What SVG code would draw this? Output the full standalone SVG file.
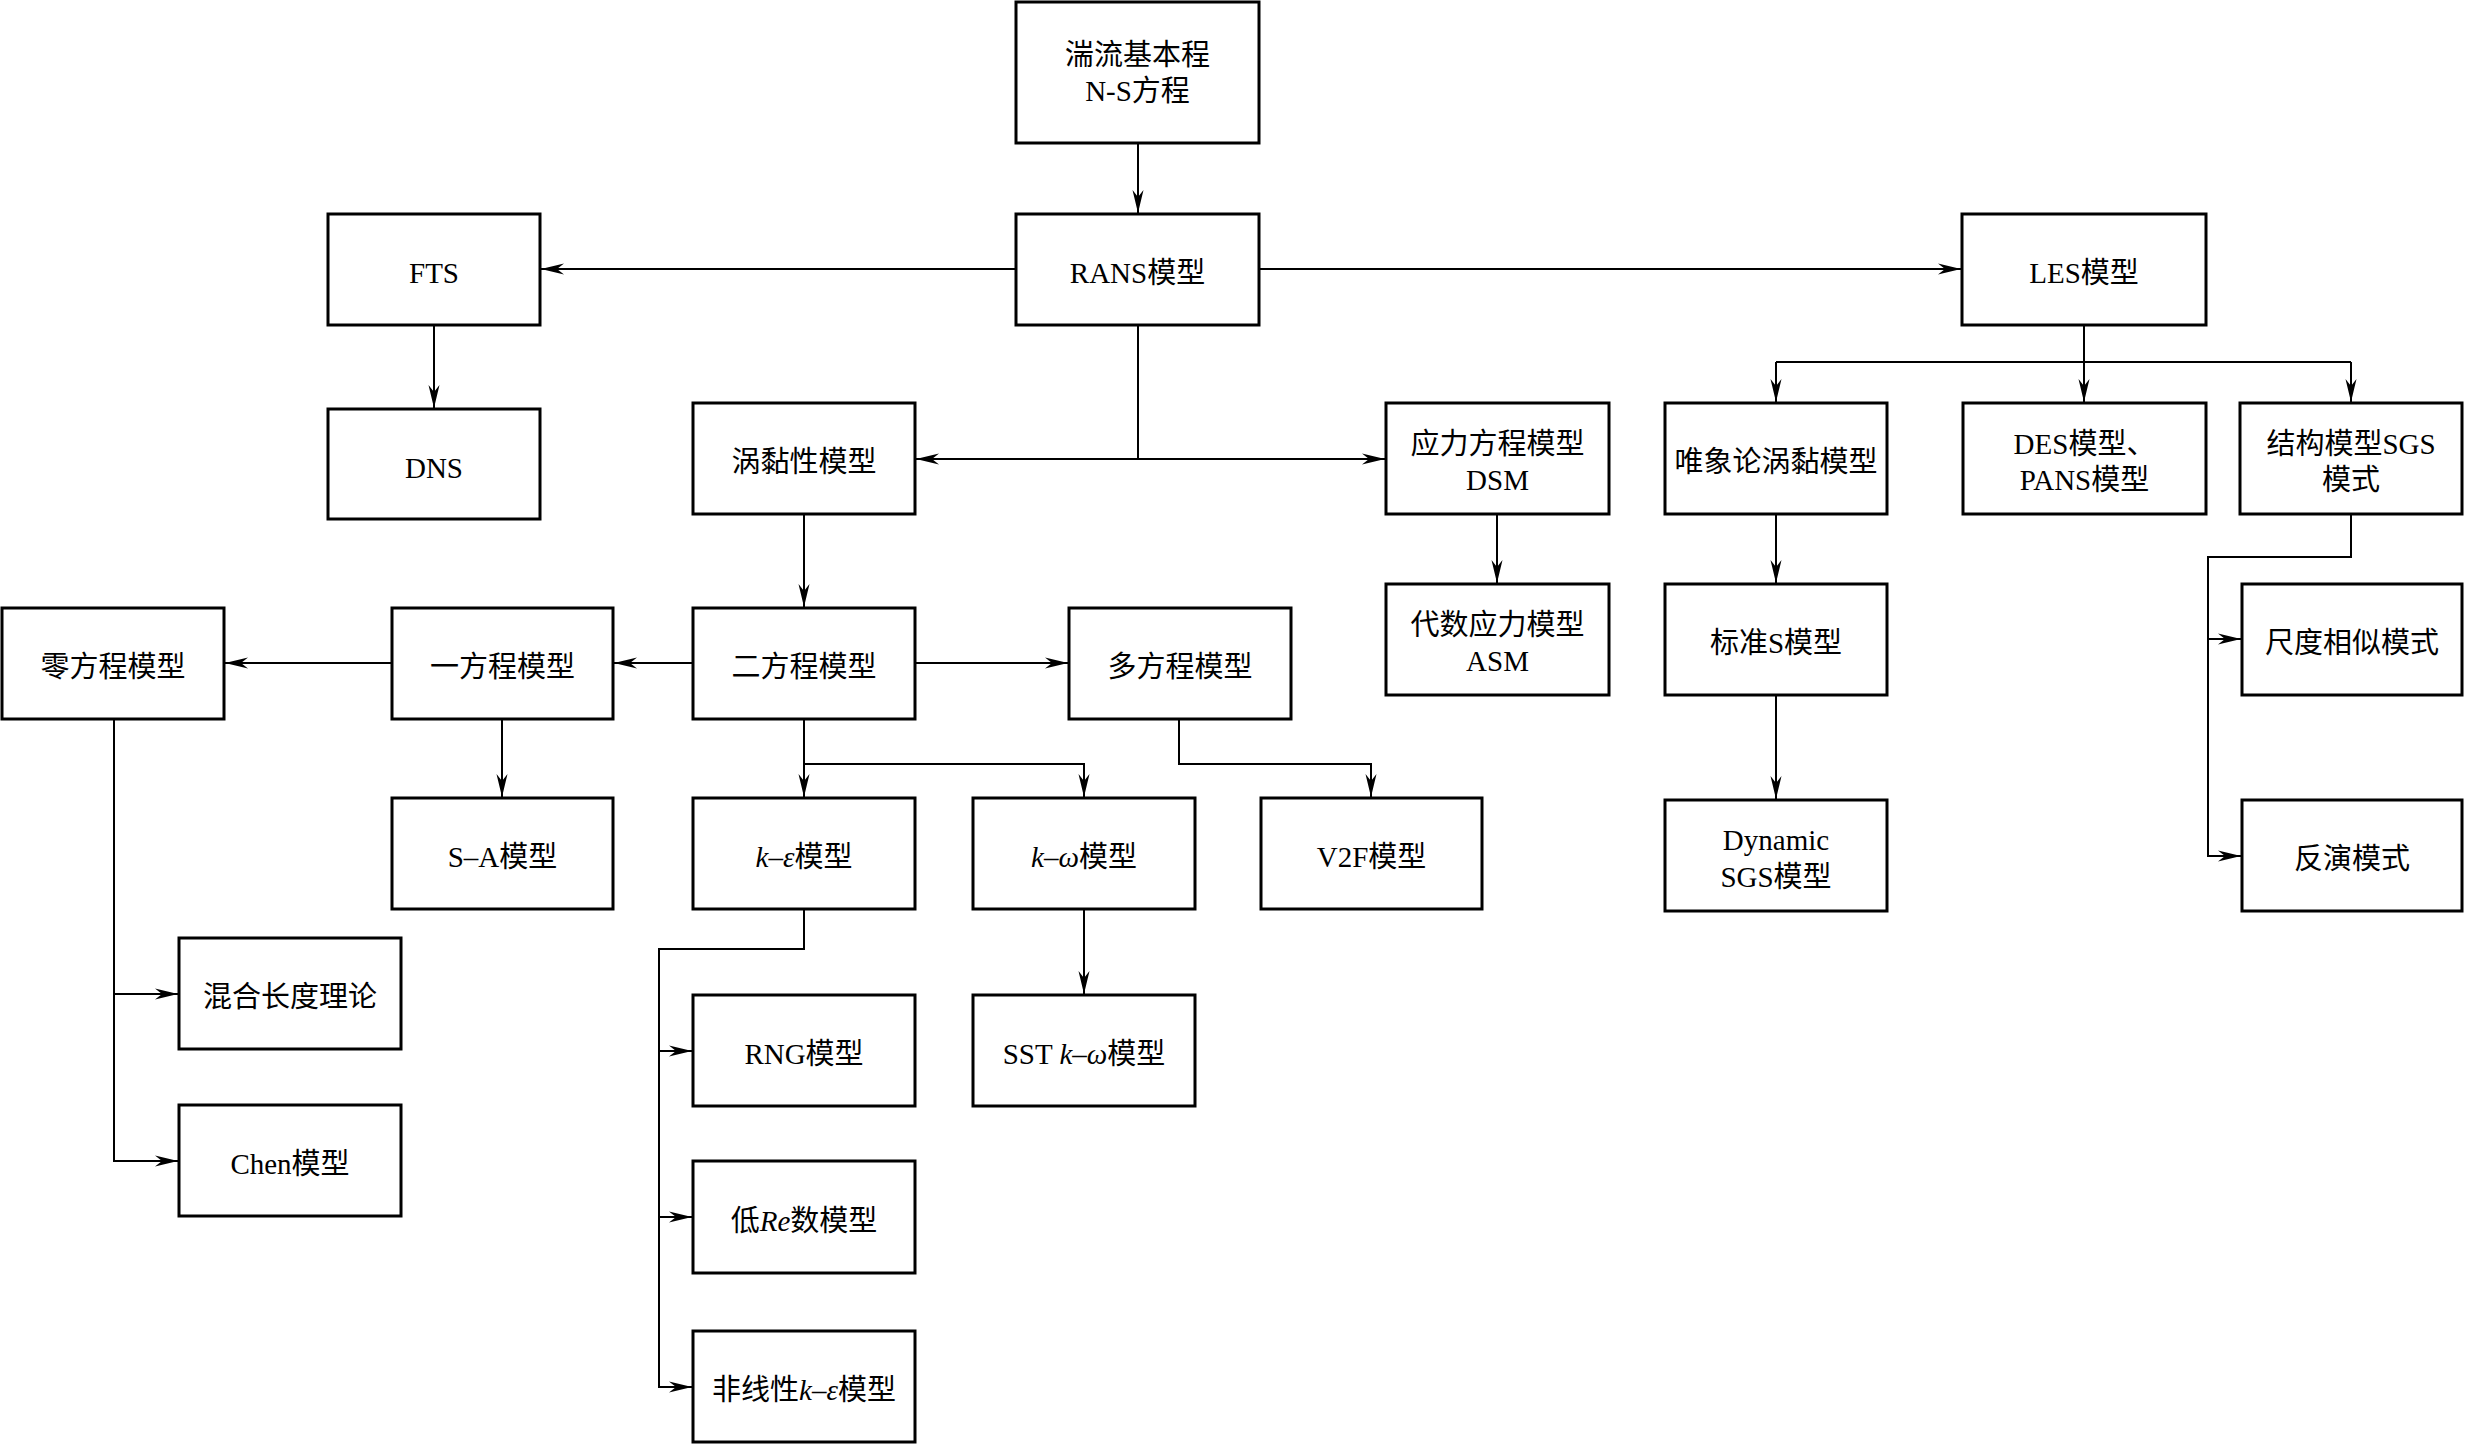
<svg xmlns="http://www.w3.org/2000/svg" width="2465" height="1444" viewBox="0 0 2465 1444">
<style>
.box rect{fill:#fff;stroke:#000;stroke-width:3}
.box text{font-family:"Liberation Serif","Noto Sans CJK SC",serif;font-size:29px;text-anchor:middle;fill:#000}
.it{font-style:italic}
.conn path{fill:none;stroke:#000;stroke-width:2}
.conn path.a{marker-end:url(#ah)}
</style>
<defs>
<marker id="ah" viewBox="-24 -7 26 14" refX="0" refY="0" markerWidth="26" markerHeight="14" markerUnits="userSpaceOnUse" orient="auto">
<path d="M0,0 L-23,-5.5 L-16,0 L-23,5.5 Z" fill="#000"/>
</marker>
</defs>
<rect width="2465" height="1444" fill="#fff"/>
<g class="conn" id="connectors">
<path class="a" d="M1138,143 V213"/>
<path class="a" d="M1016,269 H541"/>
<path class="a" d="M1259,269 H1961"/>
<path class="a" d="M434,325 V408"/>
<path d="M1138,325 V459"/>
<path class="a" d="M1138,459 H916"/>
<path class="a" d="M1138,459 H1385"/>
<path class="a" d="M2084,325 V402"/>
<path d="M1776,362 H2351"/>
<path class="a" d="M1776,362 V402"/>
<path class="a" d="M2351,362 V402"/>
<path class="a" d="M804,514 V607"/>
<path class="a" d="M693,663 H614"/>
<path class="a" d="M392,663 H225"/>
<path class="a" d="M915,663 H1068"/>
<path class="a" d="M502,719 V797"/>
<path class="a" d="M804,719 V797"/>
<path class="a" d="M804,764 H1084 V797"/>
<path class="a" d="M1179,719 V764 H1371 V797"/>
<path class="a" d="M114,719 V1161 H178"/>
<path class="a" d="M114,994 H178"/>
<path class="a" d="M804,909 V949 H659 V1387 H692"/>
<path class="a" d="M659,1051 H692"/>
<path class="a" d="M659,1217 H692"/>
<path class="a" d="M1084,909 V994"/>
<path class="a" d="M1497,514 V583"/>
<path class="a" d="M1776,514 V583"/>
<path class="a" d="M1776,695 V799"/>
<path class="a" d="M2351,514 V557 H2208 V856 H2241"/>
<path class="a" d="M2208,639 H2241"/>
</g>
<g class="box" id="n-ns"><rect x="1016" y="2" width="243" height="141"/><text x="1137.5" y="65">湍流基本程</text><text x="1137.5" y="101">N-S方程</text></g>
<g class="box" id="n-rans"><rect x="1016" y="214" width="243" height="111"/><text x="1137.5" y="283">RANS模型</text></g>
<g class="box" id="n-fts"><rect x="328" y="214" width="212" height="111"/><text x="434" y="283">FTS</text></g>
<g class="box" id="n-dns"><rect x="328" y="409" width="212" height="110"/><text x="434" y="478">DNS</text></g>
<g class="box" id="n-les"><rect x="1962" y="214" width="244" height="111"/><text x="2084" y="283">LES模型</text></g>
<g class="box" id="n-eddy"><rect x="693" y="403" width="222" height="111"/><text x="804" y="472">涡黏性模型</text></g>
<g class="box" id="n-dsm"><rect x="1386" y="403" width="223" height="111"/><text x="1497.5" y="454">应力方程模型</text><text x="1497.5" y="490">DSM</text></g>
<g class="box" id="n-phen"><rect x="1665" y="403" width="222" height="111"/><text x="1776" y="472">唯象论涡黏模型</text></g>
<g class="box" id="n-des"><rect x="1963" y="403" width="243" height="111"/><text x="2084.5" y="454">DES模型、</text><text x="2084.5" y="490">PANS模型</text></g>
<g class="box" id="n-struct"><rect x="2240" y="403" width="222" height="111"/><text x="2351" y="454">结构模型SGS</text><text x="2351" y="490">模式</text></g>
<g class="box" id="n-zero"><rect x="2" y="608" width="222" height="111"/><text x="113" y="677">零方程模型</text></g>
<g class="box" id="n-one"><rect x="392" y="608" width="221" height="111"/><text x="502.5" y="677">一方程模型</text></g>
<g class="box" id="n-two"><rect x="693" y="608" width="222" height="111"/><text x="804" y="677">二方程模型</text></g>
<g class="box" id="n-multi"><rect x="1069" y="608" width="222" height="111"/><text x="1180" y="677">多方程模型</text></g>
<g class="box" id="n-asm"><rect x="1386" y="584" width="223" height="111"/><text x="1497.5" y="635">代数应力模型</text><text x="1497.5" y="671">ASM</text></g>
<g class="box" id="n-stds"><rect x="1665" y="584" width="222" height="111"/><text x="1776" y="653">标准S模型</text></g>
<g class="box" id="n-scale"><rect x="2242" y="584" width="220" height="111"/><text x="2352" y="653">尺度相似模式</text></g>
<g class="box" id="n-sa"><rect x="392" y="798" width="221" height="111"/><text x="502.5" y="867">S–A模型</text></g>
<g class="box" id="n-ke"><rect x="693" y="798" width="222" height="111"/><text x="804" y="867"><tspan class="it">k</tspan>–<tspan class="it">ε</tspan>模型</text></g>
<g class="box" id="n-kw"><rect x="973" y="798" width="222" height="111"/><text x="1084" y="867"><tspan class="it">k</tspan>–<tspan class="it">ω</tspan>模型</text></g>
<g class="box" id="n-v2f"><rect x="1261" y="798" width="221" height="111"/><text x="1371.5" y="867">V2F模型</text></g>
<g class="box" id="n-dyn"><rect x="1665" y="800" width="222" height="111"/><text x="1776" y="850">Dynamic</text><text x="1776" y="887">SGS模型</text></g>
<g class="box" id="n-inv"><rect x="2242" y="800" width="220" height="111"/><text x="2352" y="869">反演模式</text></g>
<g class="box" id="n-mix"><rect x="179" y="938" width="222" height="111"/><text x="290" y="1007">混合长度理论</text></g>
<g class="box" id="n-chen"><rect x="179" y="1105" width="222" height="111"/><text x="290" y="1174">Chen模型</text></g>
<g class="box" id="n-rng"><rect x="693" y="995" width="222" height="111"/><text x="804" y="1064">RNG模型</text></g>
<g class="box" id="n-sst"><rect x="973" y="995" width="222" height="111"/><text x="1084" y="1064">SST <tspan class="it">k</tspan>–<tspan class="it">ω</tspan>模型</text></g>
<g class="box" id="n-lowre"><rect x="693" y="1161" width="222" height="112"/><text x="804" y="1231">低<tspan class="it">Re</tspan>数模型</text></g>
<g class="box" id="n-nonlin"><rect x="693" y="1331" width="222" height="111"/><text x="804" y="1400">非线性<tspan class="it">k</tspan>–<tspan class="it">ε</tspan>模型</text></g>
</svg>
